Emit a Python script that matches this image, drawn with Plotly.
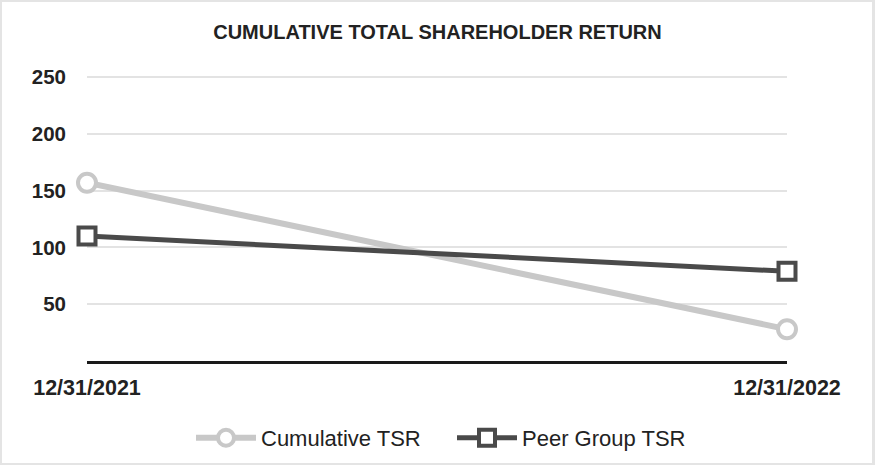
import plotly.graph_objects as go

dates = ["12/31/2021", "12/31/2022"]
cumulative_tsr = [157, 28]
peer_group_tsr = [110, 79]
y_ticks = [50, 100, 150, 200, 250]

W, H = 875, 465
L, R, T, B = 87, 88, 76, 104
pw, ph = W - L - R, H - T - B

def px_x(p):
    return (p - L) / pw

def px_y(p):
    return (H - B - p) / ph

xpos = list(range(len(dates)))
FONT = "Liberation Sans, Arial, sans-serif"

fig = go.Figure()
fig.add_trace(go.Scatter(
    x=xpos, y=cumulative_tsr, name="Cumulative TSR", mode="lines+markers",
    line=dict(color="#c8c8c8", width=6),
    marker=dict(symbol="circle", size=18, color="white", line=dict(color="#c8c8c8", width=4)),
    cliponaxis=False, legend="legend",
))
fig.add_trace(go.Scatter(
    x=xpos, y=peer_group_tsr, name="Peer Group TSR", mode="lines+markers",
    line=dict(color="#4a4a4a", width=5),
    marker=dict(symbol="square", size=17, color="white", line=dict(color="#4a4a4a", width=4)),
    cliponaxis=False, legend="legend2",
))

leg_common = dict(orientation="h", yanchor="middle", xanchor="left",
                  bgcolor="rgba(0,0,0,0)", font=dict(size=22, color="#222222"),
                  itemwidth=60)

fig.update_layout(
    width=W, height=H,
    margin=dict(l=L, r=R, t=T, b=B, autoexpand=False),
    paper_bgcolor="#e4e4e4",
    plot_bgcolor="rgba(0,0,0,0)",
    font=dict(family=FONT, color="#222222"),
    title=dict(text="<b>CUMULATIVE TOTAL SHAREHOLDER RETURN</b>", x=0.5, xanchor="center",
               y=1 - 32 / H, yanchor="middle", font=dict(size=20, color="#222222")),
    showlegend=True,
    legend=dict(x=px_x(191), y=px_y(438), **leg_common),
    legend2=dict(x=px_x(452), y=px_y(438), **leg_common),
    shapes=[dict(type="rect", xref="paper", yref="paper", layer="below",
                 x0=px_x(2), x1=px_x(872), y0=px_y(463), y1=px_y(2),
                 fillcolor="white", line=dict(width=0))],
)
fig.update_xaxes(
    range=[0, 1], tickvals=xpos, ticktext=dates, showgrid=False, zeroline=False,
    showline=True, linecolor="#1a1a1a", linewidth=2.5,
    tickfont=dict(size=21.5, color="#222222", family=FONT, weight="bold"),
    ticklabelstandoff=5, fixedrange=True,
)
fig.update_yaxes(
    range=[0, 251], tickvals=y_ticks, showgrid=True, gridcolor="#e3e3e3", gridwidth=2,
    zeroline=False, showline=False,
    tickfont=dict(size=20.5, color="#222222", family=FONT, weight="bold"),
    ticklabelstandoff=20, fixedrange=True,
)

fig.write_html("out.html", config={"displayModeBar": False},
               post_script="document.body.style.margin='0';document.body.style.overflow='hidden';")
